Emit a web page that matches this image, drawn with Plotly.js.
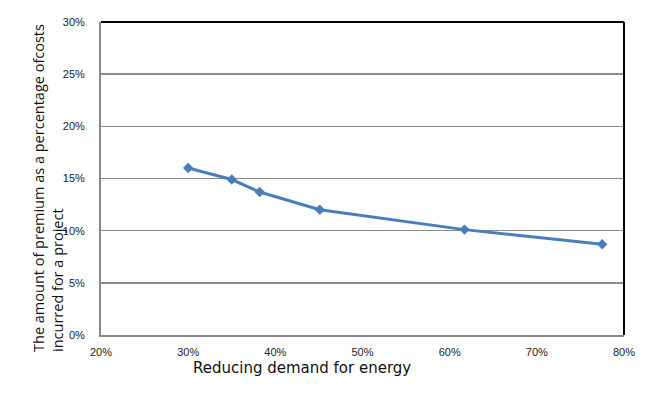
<!DOCTYPE html>
<html><head><meta charset="utf-8">
<script src="https://cdn.plot.ly/plotly-3.0.1.min.js"></script>
<style>html,body{margin:0;padding:0;background:#fff}#c{width:652px;height:399px}</style>
</head><body><div id="c"></div>
<script>
const energyReduction = [0.30, 0.35, 0.382, 0.451, 0.617, 0.775];
const premiumPct = [0.160, 0.149, 0.137, 0.120, 0.101, 0.087];
const xTicks = [0.2, 0.3, 0.4, 0.5, 0.6, 0.7, 0.8];
const xTickLabels = ['20%', '30%', '40%', '50%', '60%', '70%', '80%'];
const yTicks = [0, 0.05, 0.1, 0.15, 0.2, 0.25, 0.3];
const yTickLabels = ['0%', '5%', '10%', '15%', '20%', '25%', '30%'];
const xTitle = 'Reducing demand for energy';
const yTitle1 = 'The amount of premium as a percentage ofcosts';
const yTitle2 = 'incurred for a project';

const tickFont = {family: 'Liberation Sans, Arial, sans-serif', size: 11, color: '#222'};
const data = [{
  x: energyReduction, y: premiumPct, type: 'scatter', mode: 'lines+markers',
  line: {color: '#4a7ebb', width: 3},
  marker: {symbol: 'diamond', size: 8, color: '#4a7ebb'},
  hoverinfo: 'skip'
}];
const layout = {
  width: 652, height: 399,
  margin: {l: 101, r: 28, t: 22, b: 64},
  paper_bgcolor: '#fff', plot_bgcolor: '#fff',
  showlegend: false,
  xaxis: {
    range: [0.2, 0.8], tickvals: xTicks, ticktext: xTickLabels,
    showgrid: false, zeroline: false, showline: true, linecolor: '#888', linewidth: 2,
    ticks: '', tickfont: tickFont, ticklabelstandoff: 6
  },
  yaxis: {
    range: [0, 0.3], tickvals: yTicks, ticktext: yTickLabels,
    showgrid: true, gridcolor: '#8c8c8c', gridwidth: 1.5, zeroline: false,
    showline: true, linecolor: '#888', linewidth: 2,
    ticks: '', tickfont: tickFont, ticklabelstandoff: 12
  },
  shapes: [
    {type: 'line', xref: 'paper', yref: 'paper', x0: 0, x1: 1, y0: 1, y1: 1, line: {color: '#000', width: 2}},
    {type: 'line', xref: 'paper', yref: 'paper', x0: 1, x1: 1, y0: 0, y1: 1, line: {color: '#000', width: 2}}
  ],
  annotations: [
    {text: xTitle, xref: 'paper', yref: 'paper', x: (302 - 101) / 523, y: -(368 - 335) / 313,
     xanchor: 'center', yanchor: 'middle', showarrow: false,
     font: {family: 'DejaVu Sans, Verdana, sans-serif', size: 15, color: '#111'}},
    {text: yTitle1, xref: 'paper', yref: 'paper', x: -(101 - 38) / 523, y: -(354 - 335) / 313,
     xanchor: 'center', yanchor: 'bottom', textangle: -90, showarrow: false,
     font: {family: 'Open Sans, sans-serif', size: 14.5, color: '#111'}},
    {text: yTitle2, xref: 'paper', yref: 'paper', x: -(101 - 57) / 523, y: -(354 - 335) / 313,
     xanchor: 'center', yanchor: 'bottom', textangle: -90, showarrow: false,
     font: {family: 'Open Sans, sans-serif', size: 14.5, color: '#111'}}
  ]
};
Plotly.newPlot('c', data, layout, {staticPlot: true, displayModeBar: false});
</script></body></html>
